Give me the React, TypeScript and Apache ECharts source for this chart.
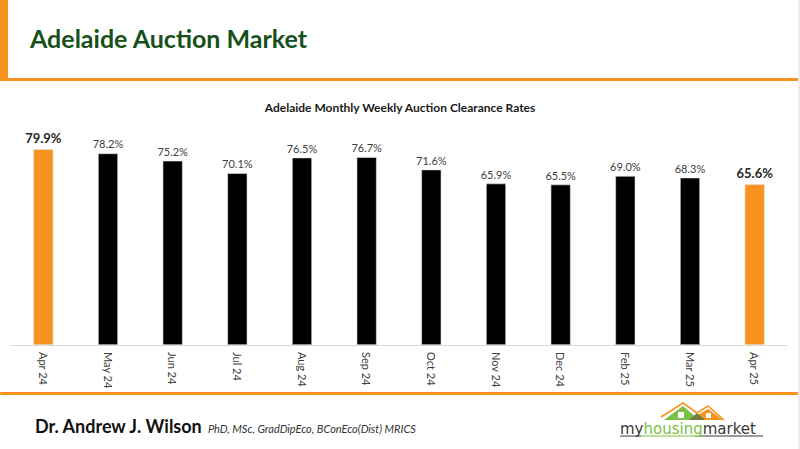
import React, { useEffect, useRef } from "react";
import * as echarts from "echarts";

const categories = ["Apr 24", "May 24", "Jun 24", "Jul 24", "Aug 24", "Sep 24", "Oct 24", "Nov 24", "Dec 24", "Feb 25", "Mar 25", "Apr 25"];
const clearanceRates = [79.9, 78.2, 75.2, 70.1, 76.5, 76.7, 71.6, 65.9, 65.5, 69.0, 68.3, 65.6];
const highlighted = [true, false, false, false, false, false, false, false, false, false, false, true];

const ORANGE = "#F7931E";
const FONT = "Lato, 'Open Sans', sans-serif";

export default function App() {
  const ref = useRef<HTMLDivElement>(null);
  useEffect(() => {
    if (!ref.current) return;
    const chart = echarts.init(ref.current, null, { renderer: "svg" });
    const data = clearanceRates.map((v, i) => ({
      value: v,
      itemStyle: { color: highlighted[i] ? ORANGE : "#000000" },
      label: highlighted[i]
        ? { fontSize: 13, fontWeight: "bold", color: "#262626", distance: 5 }
        : { fontSize: 11, fontWeight: "normal", color: "#404040", distance: 4 },
    }));
    chart.setOption({
      animation: false,
      backgroundColor: "#ffffff",
      title: {
        text: "Adelaide Monthly Weekly Auction Clearance Rates",
        left: "center",
        top: 96,
        textStyle: { fontFamily: FONT, fontSize: 12, fontWeight: "bold", color: "#1a1a1a" },
      },
      grid: { left: 11, right: 13, top: 100, bottom: 104, containLabel: false },
      xAxis: {
        type: "category",
        data: categories,
        axisLine: { lineStyle: { color: "#d9d9d9", width: 1 } },
        axisTick: { show: false },
        axisLabel: { rotate: -90, margin: 7, fontSize: 11, color: "#404040", fontFamily: FONT },
      },
      yAxis: {
        type: "value",
        min: 0,
        max: 100,
        show: false,
        splitLine: { show: false },
      },
      series: [
        {
          type: "bar",
          data,
          barWidth: 20,
          itemStyle: { borderColor: "#e6e6e6", borderWidth: 0.6 },
          label: {
            show: true,
            position: "top",
            fontFamily: FONT,
            formatter: (p: any) => p.value.toFixed(1) + "%",
          },
        },
      ],
      graphic: [
        { type: "rect", shape: { x: 0, y: 0, width: 8, height: 81 }, style: { fill: ORANGE } },
        { type: "rect", shape: { x: 0, y: 78, width: 799, height: 3 }, style: { fill: ORANGE } },
        { type: "rect", shape: { x: 0, y: 392, width: 799, height: 3, r: 1 }, style: { fill: ORANGE } },
        { type: "rect", shape: { x: 798, y: 0, width: 2, height: 449 }, style: { fill: "#ececec" } },
        {
          type: "text",
          x: 30,
          y: 38,
          style: {
            text: "Adelaide Auction Market",
            fill: "#17501a",
            font: "bold 25px " + FONT,
            textVerticalAlign: "middle",
          },
        },
        {
          type: "text",
          x: 35,
          y: 426,
          style: {
            text: "Dr. Andrew J. Wilson",
            fill: "#111111",
            font: "bold 18px " + FONT,
            textVerticalAlign: "middle",
          },
        },
        {
          type: "text",
          x: 208,
          y: 428,
          style: {
            text: "PhD, MSc, GradDipEco, BConEco(Dist) MRICS",
            fill: "#333333",
            font: "italic 11px " + FONT,
            textVerticalAlign: "middle",
          },
        },
        // logo houses
        { type: "polygon", shape: { points: [[664, 420], [683, 406], [699, 420]] }, style: { fill: "#7ac143" } },
        { type: "polygon", shape: { points: [[689, 420], [708, 409], [723, 420]] }, style: { fill: ORANGE } },
        { type: "polygon", shape: { points: [[689, 420], [697, 413], [705, 420]] }, style: { fill: "#6d7f3a" } },
        { type: "polyline", shape: { points: [[661, 417], [683, 403], [697, 413], [708, 406], [724, 420]] }, style: { stroke: ORANGE, lineWidth: 1.6, fill: "none" } },
        { type: "rect", shape: { x: 678, y: 412, width: 6, height: 6 }, style: { fill: "#ffffff" } },
        { type: "rect", shape: { x: 706, y: 413, width: 5, height: 5 }, style: { fill: "#ffffff" } },
        {
          type: "text",
          x: 620,
          y: 429,
          style: {
            rich: {
              g: { fill: "#3a3a3a", font: "15px 'DejaVu Sans', sans-serif" },
              h: { fill: "#7ac143", font: "15px 'DejaVu Sans', sans-serif" },
            },
            text: "{g|my}{h|housing}{g|market}",
            textVerticalAlign: "middle",
          },
        },
        { type: "line", shape: { x1: 620, y1: 436, x2: 641, y2: 436 }, style: { stroke: "#3a3a3a", lineWidth: 1 } },
        { type: "line", shape: { x1: 641, y1: 436, x2: 701, y2: 436 }, style: { stroke: "#7ac143", lineWidth: 1 } },
        { type: "line", shape: { x1: 701, y1: 436, x2: 763, y2: 436 }, style: { stroke: "#3a3a3a", lineWidth: 1 } },
      ],
    });
    return () => chart.dispose();
  }, []);
  return <div ref={ref} style={{ position: "absolute", left: 0, top: 0, width: 800, height: 449 }} />;
}
